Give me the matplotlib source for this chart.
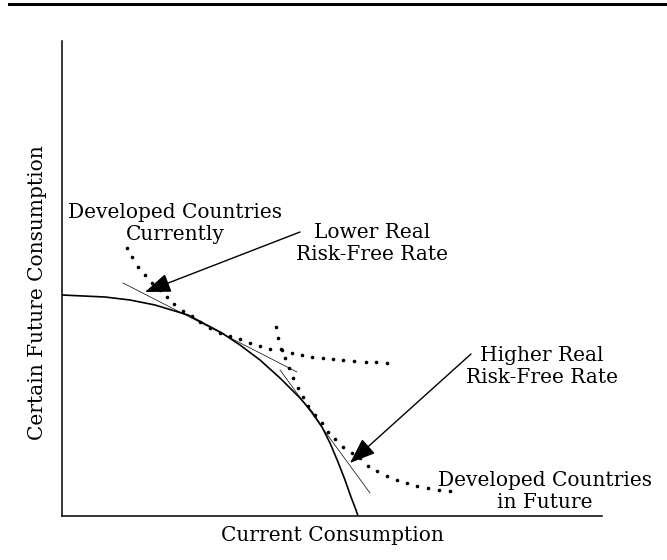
import matplotlib
matplotlib.use('Agg')
import matplotlib.pyplot as plt
from matplotlib.lines import Line2D

# Frontier (possible current vs. certain future consumption)
frontier_x = [0, 43, 68, 93, 126, 160, 178, 198, 218, 238, 250, 260, 268, 276, 283, 289, 294, 296]
frontier_y = [221, 219, 216, 211, 201, 183, 171, 156, 138, 118, 104, 89, 73, 54, 36, 19, 6, 0]

# Indifference curve: developed countries currently (dots)
current_x = [65, 70, 76, 83, 90, 98, 105, 112, 121, 130, 138, 148, 158, 168, 178, 188,
             198, 208, 220, 230, 240, 250, 261, 271, 281, 292, 304, 314, 325]
current_y = [268, 259, 249, 241, 233, 226, 219, 212, 205, 200, 194, 188, 183, 180, 177, 173,
             170, 167, 166, 163, 161, 159, 158, 157, 156, 155, 154, 154, 153]

# Indifference curve: developed countries in future (dots)
future_x = [214, 216, 219, 223, 227, 231, 236, 241, 246, 253, 260, 266, 273, 281, 290, 298,
            306, 315, 325, 335, 345, 355, 366, 377, 388]
future_y = [189, 178, 167, 158, 148, 138, 128, 119, 110, 101, 93, 84, 77, 69, 63, 58,
            50, 45, 40, 36, 33, 30, 28, 26, 25]

# Tangent lines (real risk-free rates)
lower_rate_x = [61, 235]
lower_rate_y = [233, 144]
higher_rate_x = [218, 308]
higher_rate_y = [146, 23]

# Annotations: text and baseline of its last line, arrow tail and tip
labels = {
    'Developed Countries\nCurrently': (113, 276),
    'Lower Real\nRisk-Free Rate': (310, 256),
    'Higher Real\nRisk-Free Rate': (480, 133),
    'Developed Countries\nin Future': (483, 8),
}
arrows = [((238, 284), (83, 224)), ((409, 162), (288, 53))]

plt.rcParams['font.family'] = ['DejaVu Serif']

fig = plt.figure(figsize=(6.67, 5.60), dpi=100)
ax = fig.add_axes([62 / 667, 44 / 560, 540 / 667, 475 / 560])

ax.plot(frontier_x, frontier_y, color='black', lw=1.2)
ax.plot(lower_rate_x, lower_rate_y, color='black', lw=0.5)
ax.plot(higher_rate_x, higher_rate_y, color='black', lw=0.5)
ax.plot(current_x, current_y, 'o', color='black', ms=2.6, mew=0)
ax.plot(future_x, future_y, 'o', color='black', ms=2.6, mew=0)

for txt, (tx, ty) in labels.items():
    ax.text(tx, ty, txt, ha='center', va='baseline', fontsize=14.5,
            linespacing=1.2, multialignment='center')

for tail, tip in arrows:
    ax.annotate('', xy=tip, xytext=tail,
                arrowprops=dict(arrowstyle='-|>,head_length=0.8,head_width=0.3',
                                color='black', lw=1.0, mutation_scale=20,
                                shrinkA=0, shrinkB=0))

ax.set_xlim(0, 540)
ax.set_ylim(0, 475)
for s in ['top', 'right']:
    ax.spines[s].set_visible(False)
ax.spines['left'].set_linewidth(1.1)
ax.spines['bottom'].set_linewidth(1.1)
ax.set_xticks([])
ax.set_yticks([])

ax.set_xlabel('Current Consumption', fontsize=14.5, labelpad=7.5)
ax.set_ylabel('Certain Future Consumption', fontsize=14.5)
ax.yaxis.set_label_coords(-0.028, 0.47)

# rule across the top of the page
fig.add_artist(Line2D([9 / 667, 1], [1 - 4 / 560, 1 - 4 / 560], color='black', lw=2.2))

fig.savefig('out.png', dpi=100)
